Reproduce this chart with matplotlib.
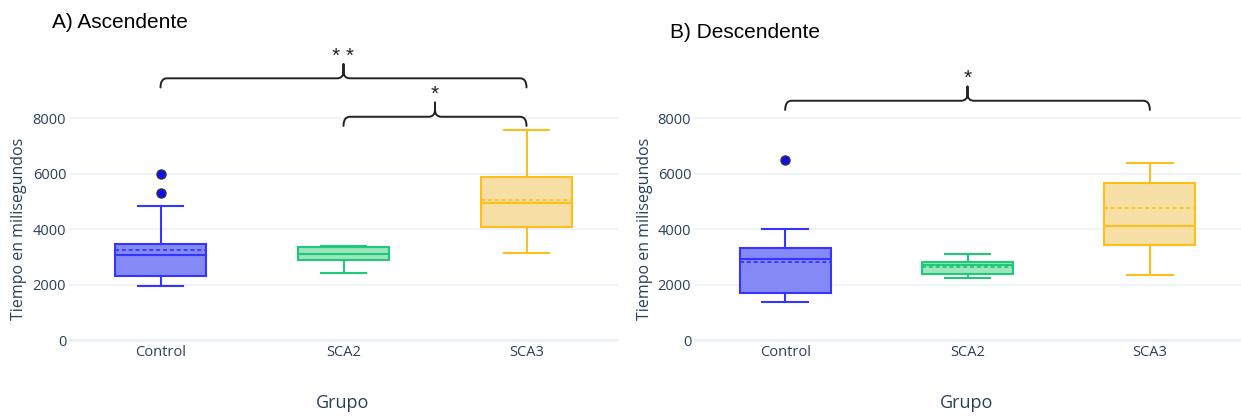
import matplotlib
matplotlib.use('Agg')
import matplotlib.pyplot as plt
from matplotlib.path import Path
from matplotlib.patches import PathPatch

# Group names
groups = ['Control', 'SCA2', 'SCA3']

# A) Ascendente - box statistics (ms)
asc_whislo = [1960, 2440, 3160]
asc_q1 = [2330, 2900, 4080]
asc_med = [3090, 3120, 4950]
asc_mean = [3250, 3110, 5070]
asc_q3 = [3480, 3370, 5880]
asc_whishi = [4840, 3390, 7570]
asc_fliers = [[6000, 5300], [], []]

# B) Descendente - box statistics (ms)
desc_whislo = [1370, 2260, 2350]
desc_q1 = [1700, 2390, 3430]
desc_med = [2930, 2730, 4110]
desc_mean = [2810, 2630, 4760]
desc_q3 = [3330, 2825, 5660]
desc_whishi = [4010, 3120, 6400]
desc_fliers = [[6500], [], []]

# significance pairs (group index a, group index b, label)
asc_sig = [(0, 2, '**'), (1, 2, '*')]
desc_sig = [(0, 2, '*')]

line_colors = ['#3535ff', '#1fc978', '#ffbf1a']
fill_colors = ['#8489f6', '#9be6bc', '#f5dfa5']
text_color = '#2a3f5f'
grid_color = '#ebf0f8'

# brace levels (layout only)
asc_brace_y = [9440, 8056]
desc_brace_y = [8632]


def make_stats(whislo, q1, med, mean, q3, whishi, fliers):
    stats = []
    for i in range(len(groups)):
        stats.append({'whislo': whislo[i], 'q1': q1[i], 'med': med[i], 'mean': mean[i],
                      'q3': q3[i], 'whishi': whishi[i], 'fliers': fliers[i], 'label': groups[i]})
    return stats


def draw_brace(ax, x0, x1, y, label, drop=330, rise=510, rx=0.035):
    """Curly brace between two groups with a label on top"""
    xm = (x0 + x1) / 2
    verts = [(x0, y - drop), (x0, y), (x0 + rx, y), (xm - rx, y), (xm, y), (xm, y + rise * 0.5), (xm, y + rise),
             (x1, y - drop), (x1, y), (x1 - rx, y), (xm + rx, y), (xm, y), (xm, y + rise * 0.5), (xm, y + rise)]
    codes = [Path.MOVETO, Path.CURVE3, Path.CURVE3, Path.LINETO, Path.CURVE3, Path.CURVE3, Path.LINETO,
             Path.MOVETO, Path.CURVE3, Path.CURVE3, Path.LINETO, Path.CURVE3, Path.CURVE3, Path.LINETO]
    ax.add_patch(PathPatch(Path(verts, codes), fill=False, edgecolor='#222222', lw=1.4,
                           clip_on=False, capstyle='round', joinstyle='round'))
    ax.text(xm, y + rise - 60, label.replace('**', '* *'), ha='center', va='bottom', fontsize=15,
            family='Liberation Sans', color='#222222', clip_on=False)


def draw_panel(ax, stats, sig, brace_y):
    for i, st in enumerate(stats):
        lc = line_colors[i]
        ax.bxp([st], positions=[i], widths=0.5, capwidths=0.25, showmeans=True, meanline=True,
               patch_artist=True, manage_ticks=False,
               boxprops=dict(facecolor=fill_colors[i], edgecolor=lc, linewidth=1.5),
               medianprops=dict(color=lc, linewidth=1.5),
               meanprops=dict(color=lc, linewidth=1.3, linestyle=(0, (2.2, 1.6))),
               whiskerprops=dict(color=lc, linewidth=1.5),
               capprops=dict(color=lc, linewidth=1.5),
               flierprops=dict(marker='o', markerfacecolor='#1010ee', markeredgecolor='#333333',
                               markeredgewidth=1.0, markersize=6.5, linestyle='none'))
    for (a, b, lab), yb in zip(sig, brace_y):
        draw_brace(ax, a, b, yb, lab)

    ax.set_xlim(-0.5, 2.5)
    ax.set_ylim(-400, 10600)
    ax.set_yticks([0, 2000, 4000, 6000, 8000])
    ax.set_xticks(range(len(groups)))
    ax.set_xticklabels(groups)
    ax.grid(axis='y', color=grid_color, linewidth=1.2)
    ax.axhline(0, color=grid_color, linewidth=2, zorder=0)
    ax.set_axisbelow(True)
    for s in ax.spines.values():
        s.set_visible(False)
    ax.tick_params(axis='y', length=0, labelcolor=text_color, labelsize=10.5, pad=2)
    ax.tick_params(axis='x', length=0, labelcolor=text_color, labelsize=10.5, pad=-5)
    for t in ax.get_xticklabels() + ax.get_yticklabels():
        t.set_family('Open Sans')


fig = plt.figure(figsize=(12.41, 4.16), dpi=100)
ax_a = fig.add_axes([69 / 1241, 0.1548, 549 / 1241, 0.7344])
ax_b = fig.add_axes([694 / 1241, 0.1548, 547 / 1241, 0.7344])

draw_panel(ax_a, make_stats(asc_whislo, asc_q1, asc_med, asc_mean, asc_q3, asc_whishi, asc_fliers),
           asc_sig, asc_brace_y)
draw_panel(ax_b, make_stats(desc_whislo, desc_q1, desc_med, desc_mean, desc_q3, desc_whishi, desc_fliers),
           desc_sig, desc_brace_y)

# titles and axis labels
fig.text(52 / 1241, 1 - 22 / 416, 'A) Ascendente', ha='left', va='center', fontsize=15,
         family='Liberation Sans', color='black')
fig.text(670 / 1241, 1 - 33 / 416, 'B) Descendente', ha='left', va='center', fontsize=15,
         family='Liberation Sans', color='black')
for xl in (19, 645):
    fig.text(xl / 1241, 1 - 229 / 416, 'Tiempo en milisegundos', rotation=90, ha='center', va='center',
             fontsize=11.5, family='Open Sans', color=text_color)
for xg in (343, 967):
    fig.text(xg / 1241, 1 - 403 / 416, 'Grupo', ha='center', va='center', fontsize=13,
             family='Open Sans', color=text_color)

fig.savefig('out.png', dpi=100)
